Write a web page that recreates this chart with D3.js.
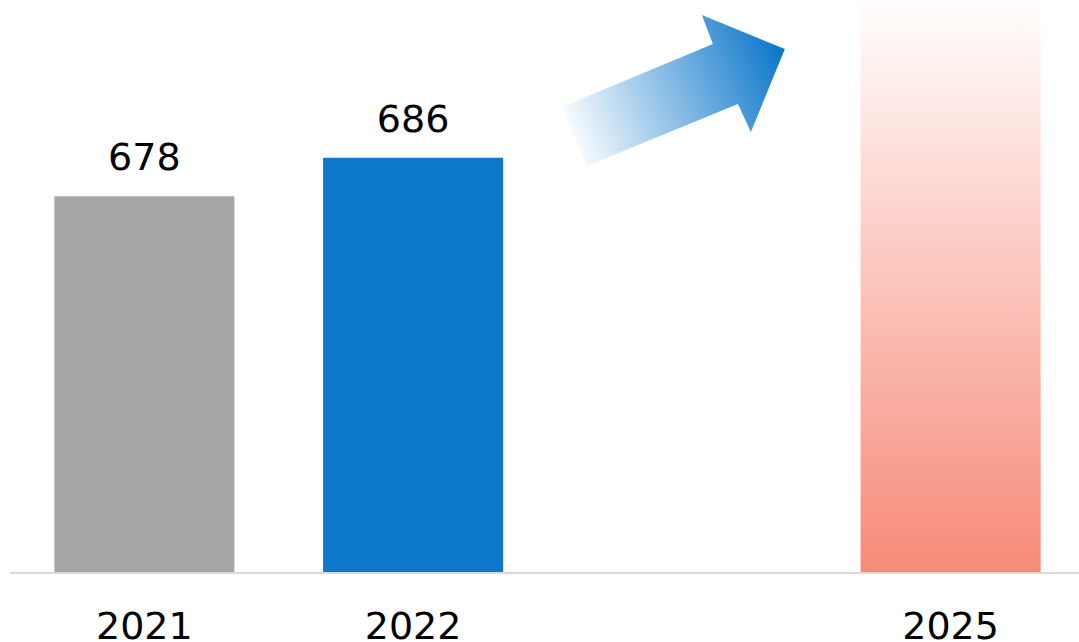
<!DOCTYPE html>
<html>
<head>
<meta charset="utf-8">
<script src="https://cdn.jsdelivr.net/npm/d3@7"></script>
<style>
  html, body { margin: 0; padding: 0; background: #fff; }
  svg { display: block; }
</style>
</head>
<body>
<svg id="chart"></svg>
<script>
// chart data
const years = ["2021", "2022", "", "2025"];
const values = [678, 686, null, 720];
const valueLabels = ["678", "686", "", ""];
const barKinds = ["actual", "actual-blue", "none", "target"];

const width = 1079, height = 642;
const baseY = 572;

const svg = d3.select("#chart")
    .attr("width", width)
    .attr("height", height)
    .attr("viewBox", [0, 0, width, height]);

const xScale = d3.scaleBand()
    .domain(years)
    .range([10, 1085])
    .paddingInner(0.33)
    .paddingOuter(0.165);

const yScale = d3.scaleLinear()
    .domain([600, 720])
    .range([baseY, -6]);

const defs = svg.append("defs");

// fading gradient for the 2025 target bar
const targetGrad = defs.append("linearGradient")
    .attr("id", "targetGrad")
    .attr("x1", 0).attr("y1", 1).attr("x2", 0).attr("y2", 0);
targetGrad.append("stop").attr("offset", 0).attr("stop-color", "#f78a79").attr("stop-opacity", 1);
targetGrad.append("stop").attr("offset", 1).attr("stop-color", "#f78a79").attr("stop-opacity", 0);

const fills = { "actual": "#a6a6a6", "actual-blue": "#0e79cb", "target": "url(#targetGrad)" };

const data = years.map((y, i) => ({ year: y, value: values[i], label: valueLabels[i], kind: barKinds[i] }))
    .filter(d => d.value !== null);

// bars
svg.append("g")
    .selectAll("rect")
    .data(data)
    .join("rect")
    .attr("x", d => xScale(d.year))
    .attr("y", d => yScale(d.value))
    .attr("width", xScale.bandwidth())
    .attr("height", d => yScale(600) - yScale(d.value))
    .attr("fill", d => fills[d.kind]);

// value labels
svg.append("g")
    .selectAll("text")
    .data(data.filter(d => d.label))
    .join("text")
    .attr("x", d => xScale(d.year) + xScale.bandwidth() / 2)
    .attr("y", d => yScale(d.value) - 26)
    .attr("text-anchor", "middle")
    .attr("font-family", "DejaVu Sans, Verdana, sans-serif")
    .attr("font-size", 38)
    .attr("fill", "#000")
    .text(d => d.label);

// x axis
const xAxisGroup = svg.append("g")
    .attr("transform", `translate(0,${baseY + 1})`)
    .call(d3.axisBottom(xScale).tickSize(0).tickPadding(0));

xAxisGroup.select(".domain")
    .attr("d", `M10,0H${width}`)
    .attr("stroke", "#d9d9d9")
    .attr("stroke-width", 2);

xAxisGroup.selectAll(".tick text")
    .attr("dy", null)
    .attr("y", 66)
    .attr("font-family", "DejaVu Sans, Verdana, sans-serif")
    .attr("font-size", 38)
    .attr("fill", "#000");

// growth arrow, placed over the empty slot
const cx = xScale("") + xScale.bandwidth() / 2;
const arrowShape = [[-120, 107], [31, 44], [20, 15], [103, 49], [69, 132], [56, 104], [-95, 166]];

const arrowGrad = defs.append("linearGradient")
    .attr("id", "arrowGrad")
    .attr("gradientUnits", "userSpaceOnUse")
    .attr("x1", cx - 115).attr("y1", 140)
    .attr("x2", cx + 100).attr("y2", 55);
arrowGrad.append("stop").attr("offset", 0).attr("stop-color", "#0e78cb").attr("stop-opacity", 0);
arrowGrad.append("stop").attr("offset", 1).attr("stop-color", "#0e78cb").attr("stop-opacity", 1);

svg.append("path")
    .attr("d", d3.line().x(p => cx + p[0]).y(p => p[1])(arrowShape) + "Z")
    .attr("fill", "url(#arrowGrad)");
</script>
</body>
</html>
